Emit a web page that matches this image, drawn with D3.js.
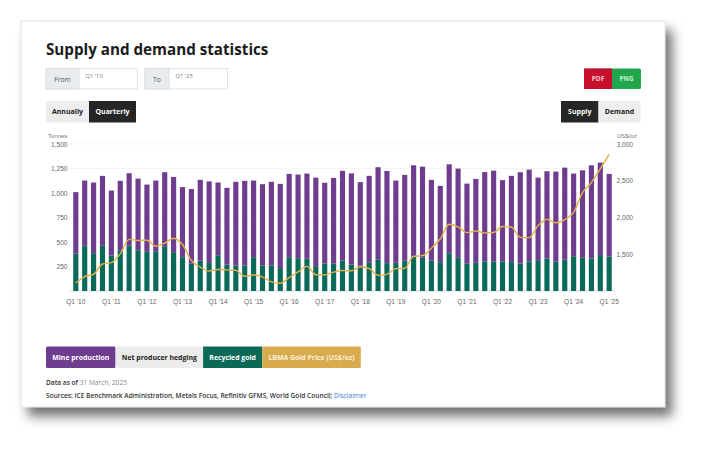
<!DOCTYPE html>
<html>
<head>
<meta charset="utf-8">
<script src="https://cdnjs.cloudflare.com/ajax/libs/d3/7.8.5/d3.min.js"></script>
<style>
  html, body { margin: 0; padding: 0; background: #fff; }
  svg { display: block; }
  .ui { font-family: "Open Sans", "Noto Sans", sans-serif; }
  .axis text { font-family: "Liberation Sans", Arial, sans-serif; font-size: 6.6px; fill: #666; }
</style>
</head>
<body>
<div id="chart"></div>
<script>
// quarters Q1 2010 .. Q1 2025
var quarters = [];
for (var yr = 2010; yr <= 2025; yr += 1) {
    for (var q = 1; q <= 4; q += 1) {
        if (yr === 2025 && q > 1) { break; }
        quarters.push("Q" + q + " '" + String(yr).slice(2));
    }
}

// tonnes
var recycledGold = [380, 461, 386, 461, 362, 410, 461, 416, 406, 406, 451, 396, 345, 278, 312, 286,
                    365, 268, 261, 261, 345, 261, 261, 234, 345, 335, 329, 254, 281, 278, 310, 272,
                    258, 288, 319, 284, 288, 309, 349, 339, 309, 294, 386, 339, 278, 288, 303, 302,
                    302, 295, 281, 302, 315, 332, 302, 319, 355, 339, 332, 366, 352];

var mineProduction = [629, 666, 721, 714, 663, 714, 741, 731, 680, 721, 761, 768, 715, 762, 822, 833,
                      742, 785, 853, 863, 782, 829, 853, 859, 850, 853, 869, 903, 823, 876, 916, 928,
                      853, 887, 944, 941, 839, 876, 934, 930, 825, 779, 907, 910, 818, 856, 910, 926,
                      829, 880, 931, 937, 842, 890, 916, 940, 843, 893, 951, 944, 843];

// US$/oz
var goldPrice = [1109, 1197, 1227, 1367, 1386, 1506, 1702, 1688, 1691, 1609, 1652, 1718, 1632, 1415, 1326, 1272,
                 1293, 1288, 1282, 1201, 1218, 1192, 1124, 1106, 1183, 1260, 1335, 1222, 1220, 1257, 1278, 1275,
                 1329, 1306, 1213, 1226, 1304, 1309, 1472, 1481, 1583, 1711, 1909, 1874, 1794, 1816, 1790, 1795,
                 1877, 1871, 1729, 1726, 1890, 1976, 1928, 1971, 2070, 2338, 2474, 2663, 2860];

var tonnesTicks = [0, 250, 500, 750, 1000, 1250, 1500];
var priceTicks = [1500, 2000, 2500, 3000];

var legendItems = [
    { label: "Mine production", bg: "#6f3d8f", fg: "#fff" },
    { label: "Net producer hedging", bg: "#ececec", fg: "#222" },
    { label: "Recycled gold", bg: "#0b6a57", fg: "#fff" },
    { label: "LBMA Gold Price (US$/oz)", bg: "#d8ab4e", fg: "#fbf1da" }
];

var W = 708, H = 450,
    card = { x: 21, y: 21, w: 644, h: 386 },
    plot = { left: 69.5, right: 615.5, top: 144, bottom: 291 },
    colors = { mine: "#6f3d8f", recycled: "#0b6a57", price: "#e2b04c" };

var svg = d3.select("#chart").append("svg")
    .attr("width", W)
    .attr("height", H);

var defs = svg.append("defs");
var f = defs.append("filter").attr("id", "shadow")
    .attr("x", "-10%").attr("y", "-10%").attr("width", "125%").attr("height", "130%");
f.append("feDropShadow").attr("dx", 7).attr("dy", 9).attr("stdDeviation", 6)
    .attr("flood-color", "#000").attr("flood-opacity", 0.55);

svg.append("rect")
    .attr("x", card.x).attr("y", card.y)
    .attr("width", card.w).attr("height", card.h)
    .attr("fill", "#fff")
    .attr("stroke", "#d4d4d4").attr("stroke-width", 0.6)
    .attr("filter", "url(#shadow)");

var ui = svg.append("g").attr("class", "ui");

ui.append("text")
    .attr("x", 46).attr("y", 55)
    .attr("font-size", 15.2).attr("font-weight", 700).attr("fill", "#1b1b1b")
    .text("Supply and demand statistics");

// From / To inputs
function rangeBox(x, w, lw, label, value) {
    var g = ui.append("g");
    g.append("rect").attr("x", x).attr("y", 68.5).attr("width", w).attr("height", 20.5)
        .attr("fill", "#fff").attr("stroke", "#dcdcdc").attr("stroke-width", 0.8);
    g.append("rect").attr("x", x).attr("y", 68.5).attr("width", lw).attr("height", 20.5)
        .attr("fill", "#e9ecef").attr("stroke", "#dcdcdc").attr("stroke-width", 0.8);
    g.append("text").attr("x", x + lw / 2).attr("y", 81.5).attr("text-anchor", "middle")
        .attr("font-size", 6.8).attr("fill", "#555").text(label);
    g.append("text").attr("x", x + lw + 6.5).attr("y", 78).attr("font-size", 5.8)
        .attr("fill", "#777").text(value);
}
rangeBox(46, 91.5, 33, "From", "Q1 '10");
rangeBox(145, 82.5, 24, "To", "Q1 '25");

// toggle buttons
function toggle(x, y, w, h, label, active, bg) {
    ui.append("rect").attr("x", x).attr("y", y).attr("width", w).attr("height", h)
        .attr("fill", bg || (active ? "#262626" : "#ededed"));
    ui.append("text").attr("x", x + w / 2).attr("y", y + h / 2 + 2.5).attr("text-anchor", "middle")
        .attr("font-size", 7).attr("font-weight", 700)
        .attr("fill", active ? "#fff" : "#222").text(label);
}
toggle(46, 101, 43, 21.5, "Annually", false);
toggle(89, 101, 47, 21.5, "Quarterly", true);
toggle(561, 101, 37.5, 21.5, "Supply", true);
toggle(598.5, 101, 42, 21.5, "Demand", false);

ui.append("rect").attr("x", 584).attr("y", 68.5).attr("width", 57).attr("height", 20.5)
    .attr("rx", 1.5).attr("fill", "#22a64b");
ui.append("rect").attr("x", 584).attr("y", 68.5).attr("width", 28).attr("height", 20.5)
    .attr("fill", "#c8102e");
ui.append("text").attr("x", 598).attr("y", 81).attr("text-anchor", "middle")
    .attr("font-size", 6.5).attr("font-weight", 700).attr("fill", "#f3c5cc").text("PDF");
ui.append("text").attr("x", 626.5).attr("y", 81).attr("text-anchor", "middle")
    .attr("font-size", 6.5).attr("font-weight", 700).attr("fill", "#c8f0d2").text("PNG");

// scales
var x = d3.scaleBand()
    .domain(quarters)
    .range([plot.left, plot.right])
    .padding(0.42);

var yT = d3.scaleLinear().domain([0, 1500]).range([plot.bottom, plot.top]);
var yP = d3.scaleLinear().domain([1000, 3000]).range([plot.bottom, plot.top]);

// gridlines
svg.append("g")
    .selectAll("line")
    .data(tonnesTicks.slice(1))
    .enter()
    .append("line")
    .attr("x1", plot.left).attr("x2", plot.right)
    .attr("y1", function (d) { return yT(d); })
    .attr("y2", function (d) { return yT(d); })
    .attr("stroke", "#ececec").attr("stroke-width", 0.6);

svg.append("line")
    .attr("x1", plot.left).attr("x2", plot.right)
    .attr("y1", plot.bottom).attr("y2", plot.bottom)
    .attr("stroke", "#d0d0d0").attr("stroke-width", 0.6);

// axes
var leftAxis = d3.axisLeft(yT).tickValues(tonnesTicks.slice(1)).tickSize(0).tickPadding(2)
    .tickFormat(d3.format(","));
svg.append("g").attr("class", "axis")
    .attr("transform", "translate(" + plot.left + ",0)")
    .call(leftAxis)
    .call(function (g) { g.select(".domain").remove(); });

var rightAxis = d3.axisRight(yP).tickValues(priceTicks).tickSize(0).tickPadding(1)
    .tickFormat(d3.format(","));
svg.append("g").attr("class", "axis")
    .attr("transform", "translate(" + plot.right + ",0)")
    .call(rightAxis)
    .call(function (g) { g.select(".domain").remove(); });

var bottomAxis = d3.axisBottom(x).tickSize(0).tickPadding(8)
    .tickValues(quarters.filter(function (d) { return d.indexOf("Q1") === 0; }));
svg.append("g").attr("class", "axis")
    .attr("transform", "translate(0," + plot.bottom + ")")
    .call(bottomAxis)
    .call(function (g) { g.select(".domain").remove(); });

svg.append("text").attr("class", "axis-title")
    .attr("x", 48).attr("y", 138)
    .attr("font-family", "Liberation Sans, Arial, sans-serif")
    .attr("font-size", 6).attr("fill", "#777").text("Tonnes");
svg.append("text")
    .attr("x", 617).attr("y", 138)
    .attr("font-family", "Liberation Sans, Arial, sans-serif")
    .attr("font-size", 6).attr("fill", "#777").text("US$/oz");

// stacked bars: recycled at the bottom, mine production on top
var rows = quarters.map(function (d, i) {
    return { q: d, recycled: recycledGold[i], mine: mineProduction[i], price: goldPrice[i] };
});
var stack = d3.stack().keys(["recycled", "mine"])(rows);

svg.append("g")
    .selectAll("g")
    .data(stack)
    .enter()
    .append("g")
    .attr("fill", function (s) { return colors[s.key]; })
    .selectAll("rect")
    .data(function (s) { return s; })
    .enter()
    .append("rect")
    .attr("x", function (d) { return x(d.data.q); })
    .attr("width", x.bandwidth())
    .attr("y", function (d) { return yT(d[1]); })
    .attr("height", function (d) { return yT(d[0]) - yT(d[1]); });

// gold price line
var line = d3.line()
    .x(function (d) { return x(d.q) + x.bandwidth() / 2; })
    .y(function (d) { return yP(d.price); })
    .curve(d3.curveMonotoneX);

svg.append("path")
    .datum(rows)
    .attr("d", line)
    .attr("fill", "none")
    .attr("stroke", colors.price)
    .attr("stroke-width", 1.4);

// legend
var lx = 46;
legendItems.forEach(function (item) {
    var t = ui.append("text")
        .attr("y", 360).attr("font-size", 6.9).attr("font-weight", 700)
        .attr("fill", item.fg).text(item.label);
    var tw = t.node().getComputedTextLength(),
        bw = tw + 12.5;
    ui.insert("rect", "text")
        .attr("x", lx).attr("y", 346.5).attr("width", bw).attr("height", 21.5)
        .attr("rx", item.label === "Mine production" || item.label.indexOf("LBMA") === 0 ? 1.5 : 0)
        .attr("fill", item.bg);
    t.attr("x", lx + 6.25);
    lx += bw;
});

var asOf = ui.append("text").attr("x", 46).attr("y", 385).attr("font-size", 6.6);
asOf.append("tspan").attr("font-weight", 600).attr("fill", "#333").text("Data as of ");
asOf.append("tspan").attr("fill", "#888").text("31 March, 2025");

var src = ui.append("text").attr("x", 46).attr("y", 398).attr("font-size", 6.6);
src.append("tspan").attr("font-weight", 600).attr("fill", "#333")
    .text("Sources: ICE Benchmark Administration, Metals Focus, Refinitiv GFMS, World Gold Council; ");
src.append("tspan").attr("fill", "#3d7cc9").text("Disclaimer");
</script>
</body>
</html>
